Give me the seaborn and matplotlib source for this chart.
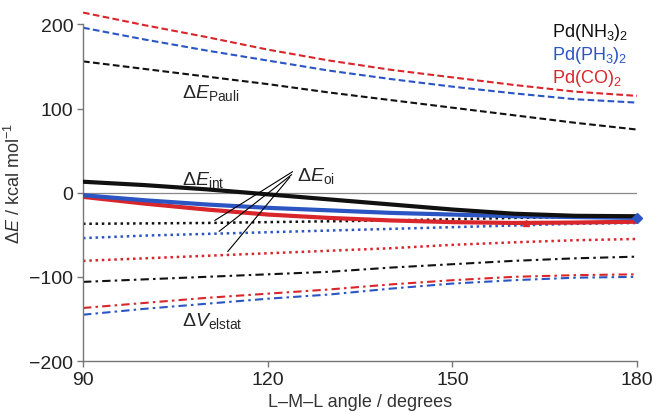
import numpy as np
import pandas as pd
import matplotlib
matplotlib.use('Agg')
import matplotlib.pyplot as plt
import seaborn as sns

# L-M-L angle (degrees)
angle = [90, 100, 110, 120, 130, 140, 150, 160, 170, 180]

# Pauli repulsion (kcal/mol)
pauli_nh3 = [156, 147, 138, 129, 119, 110, 101, 92, 83, 75]
pauli_ph3 = [196, 182, 169, 157, 145, 135, 126, 118, 111, 107]
pauli_co = [214, 199, 185, 170, 157, 146, 137, 128, 120, 115]

# interaction energy
int_nh3 = [13, 9, 4, -2, -8, -14, -20, -25, -27.5, -28]
int_ph3 = [-3, -9, -14, -18, -21, -24, -26, -28, -29, -30]
int_co = [-5, -13, -20, -26, -30, -33, -35, -36, -35.5, -34.5]

# orbital interaction
oi_nh3 = [-37, -36.5, -36, -35, -34, -33, -31.5, -30, -29, -28]
oi_ph3 = [-54, -51, -49, -47, -45, -43, -41, -39, -37, -36]
oi_co = [-81, -78, -75, -72, -69, -66, -62, -59, -56.5, -55]

# electrostatic interaction
elstat_nh3 = [-106, -103, -100, -97, -94, -89, -85, -81, -78, -76]
elstat_ph3 = [-145, -138, -132, -126, -121, -114, -108, -104, -101, -100]
elstat_co = [-137, -131, -125, -120, -115, -109, -104, -100, -98, -97]

complexes = ['Pd(NH$_3$)$_2$', 'Pd(PH$_3$)$_2$', 'Pd(CO)$_2$']
colors = ['#111111', '#2a55c2', '#d8262b']

sns.set_style('white')
plt.rcParams['font.family'] = ['Liberation Sans', 'DejaVu Sans']
plt.rcParams['mathtext.fontset'] = 'custom'
plt.rcParams['mathtext.rm'] = 'Liberation Sans'
plt.rcParams['mathtext.it'] = 'Liberation Sans:italic'

fig = plt.figure(figsize=(6.54, 4.14), dpi=100)
ax = fig.add_axes([0.127, 0.1256, 0.847, 0.864])

ax.axhline(0, color='#888888', lw=0.9)

groups = [
    ([pauli_nh3, pauli_ph3, pauli_co], (0, (3.2, 1.6)), 1.5),
    ([elstat_nh3, elstat_ph3, elstat_co], (0, (4, 2, 1.2, 2)), 1.5),
    ([oi_nh3, oi_ph3, oi_co], (0, (1, 1.5)), 1.8),
]
for series, ls, lw in groups:
    for vals, c in zip(series, colors):
        df = pd.DataFrame({'angle': angle, 'E': vals})
        sns.lineplot(data=df, x='angle', y='E', ax=ax, color=c, lw=lw,
                     linestyle=ls, legend=False)

for vals, c in zip([int_co, int_ph3, int_nh3], [colors[2], colors[1], colors[0]]):
    df = pd.DataFrame({'angle': angle, 'E': vals})
    sns.lineplot(data=df, x='angle', y='E', ax=ax, color=c, lw=3.0,
                 legend=False, zorder=5)

# end markers
ax.plot([180], [int_ph3[-1]], marker='D', color=colors[1], ms=5, zorder=6,
        clip_on=False)
ax.plot([162], [-35.8], marker='^', color=colors[2], ms=4, zorder=6)

# leader lines for the orbital-interaction label
starts = [(124.05, 25), (123.9, 21.5), (123.6, 18.5)]
ends = [(111.4, -33), (112.1, -46), (113.5, -70)]
for (x0, y0), (x1, y1) in zip(starts, ends):
    ax.plot([x0, x1], [y0, y1], color='black', lw=0.8, zorder=7)

fs = 14
ax.text(106.1, 114, r'$\Delta E_{\mathrm{Pauli}}$', fontsize=fs, va='baseline')
ax.text(106.1, 10, r'$\Delta E_{\mathrm{int}}$', fontsize=fs, va='baseline')
ax.text(124.7, 15.5, r'$\Delta E_{\mathrm{oi}}$', fontsize=fs, va='baseline')
ax.text(106.1, -157, r'$\Delta V_{\mathrm{elstat}}$', fontsize=fs, va='baseline')

for i, (lab, c) in enumerate(zip(complexes, colors)):
    ax.text(166.2, 192 - 27.5 * i, lab, fontsize=13, color=c, va='center')

ax.set_xlim(90, 180)
ax.set_ylim(-200, 225)
ax.set_xticks([90, 120, 150, 180])
ax.set_yticks([-200, -100, 0, 100, 200])
ax.set_yticklabels(['\u2212200', '\u2212100', '0', '100', '200'])
ax.set_xlabel('L\u2013M\u2013L angle / degrees', fontsize=13, color='#333333', labelpad=4)
ax.set_ylabel(r'$\Delta E$ / kcal mol$^{-1}$', fontsize=13, color='#333333', labelpad=4)

sns.despine(ax=ax)
ax.spines['left'].set_bounds(-200, 200)
for s in ['left', 'bottom']:
    ax.spines[s].set_color('#777777')
    ax.spines[s].set_linewidth(1.0)
ax.tick_params(bottom=True, left=True, direction='out', length=4, width=1,
               color='#777777', labelsize=14, labelcolor='#222222', pad=3)
ax.set_facecolor('white')

fig.savefig('out.png', dpi=100)
